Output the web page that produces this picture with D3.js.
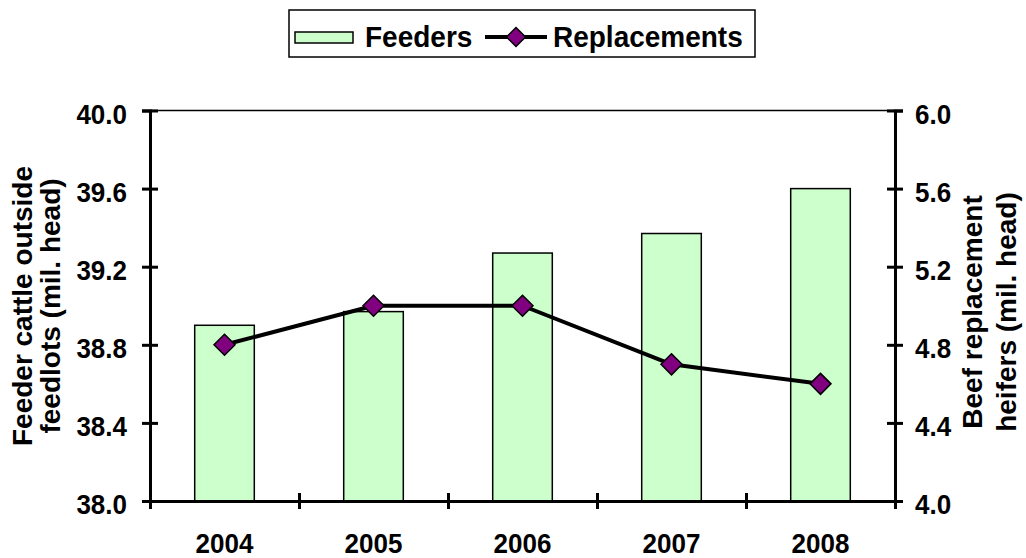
<!DOCTYPE html>
<html>
<head>
<meta charset="utf-8">
<script src="https://cdn.jsdelivr.net/npm/d3@7/dist/d3.min.js"></script>
<style>
  html, body { margin: 0; padding: 0; background: #fff; }
  svg { display: block; }
  text { font-family: "Liberation Sans", Arial, sans-serif; font-weight: bold; fill: #000; }
</style>
</head>
<body>
<svg id="chart" width="1026" height="558"></svg>
<script>
const years = ["2004", "2005", "2006", "2007", "2008"];
const feeders = [38.9, 38.97, 39.27, 39.37, 39.6];
const replacements = [4.8, 5.0, 5.0, 4.7, 4.6];
const leftTicks = [38.0, 38.4, 38.8, 39.2, 39.6, 40.0];
const rightTicks = [4.0, 4.4, 4.8, 5.2, 5.6, 6.0];
const leftTitle = ["Feeder cattle outside", "feedlots (mil. head)"];
const rightTitle = ["Beef replacement", "heifers (mil. head)"];
const seriesNames = ["Feeders", "Replacements"];

const svg = d3.select("#chart");
const L = 150, R = 895, T = 110.5, B = 501;
const FONT = '"Liberation Sans", Arial, sans-serif';

// stretch text vertically a little about its own anchor point
function stretch(sel, k) {
  sel.each(function () {
    const t = d3.select(this);
    const x = +t.attr("x") || 0, y = +t.attr("y") || 0;
    t.attr("x", 0).attr("y", 0).attr("transform", `translate(${x},${y}) scale(1,${k})`);
  });
}

const x = d3.scaleBand().domain(years).range([L, R]).paddingInner(0).paddingOuter(0);
const xb = d3.scaleLinear().domain([0, years.length]).range([L, R]);
const yL = d3.scaleLinear().domain([38.0, 40.0]).range([B, T]);
const yR = d3.scaleLinear().domain([4.0, 6.0]).range([B, T]);

// top border
svg.append("line").attr("x1", L).attr("x2", R).attr("y1", T).attr("y2", T)
  .attr("stroke", "#000").attr("stroke-width", 1.5);

// bars
const barW = x.bandwidth() * 0.4;
svg.append("g").selectAll("rect").data(years).join("rect")
  .attr("x", d => x(d) + (x.bandwidth() - barW) / 2)
  .attr("y", (d, i) => yL(feeders[i]))
  .attr("width", barW)
  .attr("height", (d, i) => B - yL(feeders[i]))
  .attr("fill", "#CCFFCC").attr("stroke", "#000").attr("stroke-width", 1.5);

// left axis
const gL = svg.append("g").attr("transform", `translate(${L},0)`)
  .call(d3.axisLeft(yL).tickValues(leftTicks).tickFormat(d3.format(".1f")).tickSizeOuter(0).tickSize(8));
gL.select(".domain").attr("stroke-width", 3);
gL.selectAll(".tick line").attr("x1", -8).attr("x2", 8).attr("stroke-width", 3);
gL.selectAll(".tick text").attr("x", -23).attr("y", 3).attr("dy", "0.35em")
  .style("font-size", "26px").style("font-family", FONT).style("font-weight", "bold");
stretch(gL.selectAll(".tick text"), 1.08);

// right axis
const gR = svg.append("g").attr("transform", `translate(${R},0)`)
  .call(d3.axisRight(yR).tickValues(rightTicks).tickFormat(d3.format(".1f")).tickSizeOuter(0).tickSize(8));
gR.select(".domain").attr("stroke-width", 3);
gR.selectAll(".tick line").attr("x1", -8).attr("x2", 8).attr("stroke-width", 3);
gR.selectAll(".tick text").attr("x", 20).attr("y", 3).attr("dy", "0.35em")
  .style("font-size", "26px").style("font-family", FONT).style("font-weight", "bold");
stretch(gR.selectAll(".tick text"), 1.08);

// bottom axis (boundary ticks)
const gB = svg.append("g").attr("transform", `translate(0,${B})`)
  .call(d3.axisBottom(xb).tickValues(d3.range(0, years.length + 1)).tickFormat("").tickSizeOuter(0).tickSize(8));
gB.select(".domain").attr("stroke-width", 3);
gB.selectAll(".tick line").attr("y1", -8).attr("y2", 8).attr("stroke-width", 3);

// bottom labels
const gBL = svg.append("g").attr("transform", `translate(0,${B})`)
  .call(d3.axisBottom(x).tickSize(0));
gBL.select(".domain").remove();
gBL.selectAll(".tick text").attr("y", 52).attr("dy", null)
  .style("font-size", "26px").style("font-family", FONT).style("font-weight", "bold");
stretch(gBL.selectAll(".tick text"), 1.08);

// line series
const line = d3.line().x((d, i) => x(years[i]) + x.bandwidth() / 2).y(d => yR(d));
svg.append("path").datum(replacements).attr("d", line)
  .attr("fill", "none").attr("stroke", "#000").attr("stroke-width", 4).attr("stroke-linejoin", "round");
const diamond = s => `M0,${-s}L${s},0L0,${s}L${-s},0Z`;
svg.append("g").selectAll("path").data(replacements).join("path")
  .attr("transform", (d, i) => `translate(${x(years[i]) + x.bandwidth() / 2},${yR(d)})`)
  .attr("d", diamond(10.5))
  .attr("fill", "#800080").attr("stroke", "#000").attr("stroke-width", 1.5);

// axis titles
const lt = svg.append("text").attr("transform", "translate(0,306) rotate(-90)")
  .attr("text-anchor", "middle").style("font-size", "28px");
lt.append("tspan").attr("x", 0).attr("y", 32).text(leftTitle[0]);
lt.append("tspan").attr("x", 0).attr("y", 60).text(leftTitle[1]);

const rt = svg.append("text").attr("transform", "translate(0,312) rotate(-90)")
  .attr("text-anchor", "middle").style("font-size", "28px");
rt.append("tspan").attr("x", 0).attr("y", 982).text(rightTitle[0]);
rt.append("tspan").attr("x", 0).attr("y", 1016).text(rightTitle[1]);

// legend
const lg = svg.append("g");
lg.append("rect").attr("x", 289).attr("y", 10).attr("width", 466).attr("height", 47)
  .attr("fill", "#fff").attr("stroke", "#000").attr("stroke-width", 1.5);
lg.append("rect").attr("x", 295).attr("y", 32).attr("width", 58).attr("height", 11)
  .attr("fill", "#CCFFCC").attr("stroke", "#000").attr("stroke-width", 1.5);
const lt1 = lg.append("text").attr("x", 365).attr("y", 47).style("font-size", "28px").text(seriesNames[0]);
lg.append("line").attr("x1", 485).attr("x2", 547).attr("y1", 37).attr("y2", 37)
  .attr("stroke", "#000").attr("stroke-width", 4);
lg.append("path").attr("transform", "translate(516,37)").attr("d", diamond(9.5))
  .attr("fill", "#800080").attr("stroke", "#000").attr("stroke-width", 1.5);
const lt2 = lg.append("text").attr("x", 553).attr("y", 47).style("font-size", "28px").text(seriesNames[1]);
stretch(lt1, 1.08);
stretch(lt2, 1.08);
</script>
</body>
</html>
